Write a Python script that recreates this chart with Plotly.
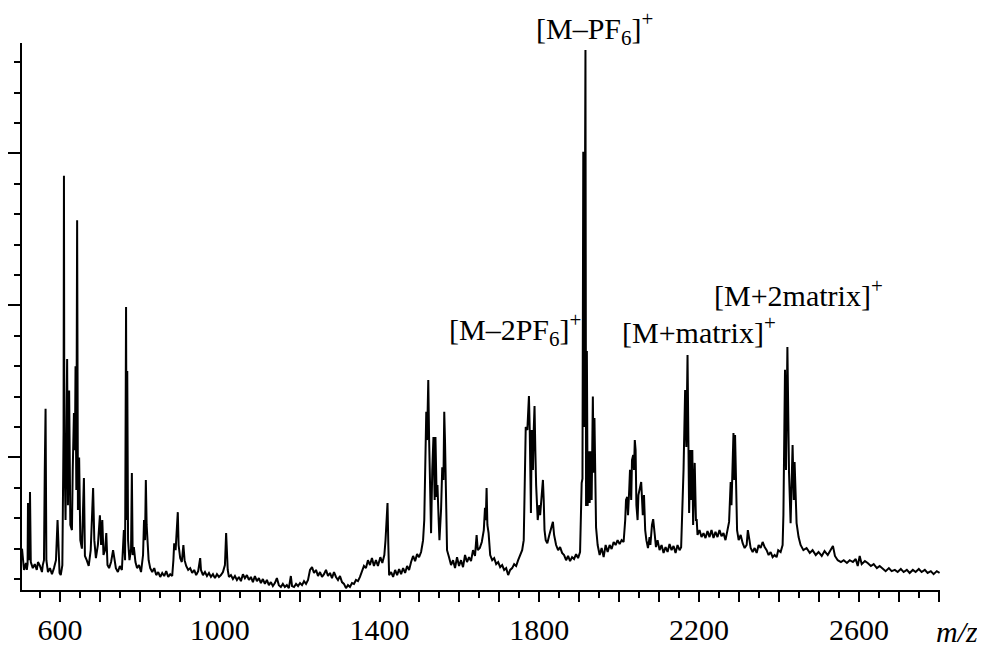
import plotly.graph_objects as go

# ---- spectrum points: (m/z, intensity in arbitrary units) ----
seg_low = [
    (505, 2.0), (507, 1.62), (510, 1.3), (515, 1.53), (517, 1.3), (519, 1.5), (520, 3.5), (521, 1.8),
    (522, 1.62), (524, 2.0), (525, 3.86), (527, 1.56), (532, 1.36), (537, 1.49), (542, 1.3), (545, 1.56),
    (550, 1.43), (555, 1.23), (557, 1.46), (560, 1.62), (562, 4.59), (564, 6.6), (566, 1.62), (570, 1.23),
    (575, 1.36), (580, 1.16), (585, 1.36), (590, 1.62), (594, 2.94), (596, 2.12), (599, 1.2), (602, 1.13),
    (606, 1.46), (609, 5.8), (610, 14.26), (611, 5.57), (614, 2.94), (616, 5.8), (618, 8.24), (620, 3.43),
    (623, 7.2), (626, 2.78), (630, 2.61), (632, 4.59), (635, 6.46), (637.5, 5.24), (639, 8.0), (641, 3.93),
    (643, 12.8), (645, 3.27), (648, 5.0), (651, 2.28), (655, 2.0), (660, 4.32), (662.5, 1.76), (667, 1.62),
    (672, 1.43), (677, 1.95), (681, 3.34), (683, 3.99), (686, 2.28), (690, 1.69), (695, 2.12), (700, 3.1),
    (703, 2.12), (706, 2.94), (709, 1.79), (713, 1.95), (716, 2.51), (719, 1.46), (723, 1.36), (728, 1.56),
    (733, 1.95), (736, 1.62), (740, 1.36), (745, 1.23), (750, 1.43), (755, 1.3), (760, 2.61), (763, 1.62),
    (765.5, 9.95), (767, 2.94), (768.5, 7.84), (770.5, 2.28), (774, 1.62), (778, 2.0), (780, 4.49), (782, 1.79),
    (785, 2.05), (789, 1.56), (793, 1.36), (798, 1.46), (803, 1.23), (808, 1.79), (810.5, 2.94), (813, 2.28),
    (815, 4.26), (817, 2.78), (819, 2.38), (822, 1.62), (826, 1.36), (831, 1.23), (836, 1.36), (841, 1.13),
    (846, 1.23), (851, 1.07), (856, 1.2), (861, 1.1), (866, 1.26), (871, 1.07), (876, 1.16), (881, 1.1),
    (884, 1.62), (886, 2.18), (889.5, 1.95), (893, 2.61), (895, 3.2), (897, 2.12), (901, 1.69), (905, 1.56),
    (909, 2.12), (912, 1.62), (916, 1.43), (921, 1.3), (926, 1.36), (931, 1.2), (936, 1.3), (941, 1.13),
    (946, 1.26), (951, 1.69), (953, 1.3), (958, 1.13), (963, 1.23), (968, 1.1), (973, 1.2), (978, 1.07),
    (983, 1.16), (988, 1.03), (993, 1.16), (998, 1.07), (1003, 1.13), (1008, 1.23), (1013, 1.46), (1016, 2.51),
    (1017.5, 2.12), (1020, 1.3), (1023, 1.07), (1028, 1.13), (1033, 1.0), (1038, 1.1), (1043, 0.97),
]

seg_valley = [
    (1048, 1.07), (1053, 0.93), (1058, 1.16), (1063, 1.03), (1068, 1.13), (1073, 0.97), (1078, 1.07),
    (1083, 0.9), (1088, 1.1), (1093, 0.93), (1098, 1.03), (1103, 0.87), (1108, 1.0), (1113, 0.84),
    (1118, 0.97), (1123, 0.8), (1128, 0.9), (1133, 0.77), (1138, 0.87), (1143, 1.03), (1148, 0.8),
    (1153, 0.74), (1158, 0.84), (1163, 0.74), (1168, 0.8), (1173, 0.7), (1178, 1.1), (1181, 0.77),
    (1186, 0.74), (1191, 0.84), (1196, 0.77), (1201, 0.87), (1206, 0.8), (1211, 0.93), (1216, 0.84),
    (1221, 0.97), (1226, 1.3), (1231, 1.39), (1236, 1.2), (1241, 1.3), (1246, 1.1), (1251, 1.23),
    (1256, 1.07), (1261, 1.16), (1266, 1.3), (1271, 1.1), (1276, 1.2), (1281, 1.03), (1286, 1.23),
    (1291, 1.07), (1296, 0.97), (1301, 1.1), (1306, 0.9), (1311, 0.84), (1316, 0.7), (1321, 0.8),
    (1326, 0.74), (1331, 0.87), (1336, 0.84), (1341, 0.97), (1346, 0.93), (1351, 1.07), (1356, 1.23),
    (1361, 1.43), (1366, 1.36), (1371, 1.62), (1376, 1.46), (1381, 1.69), (1386, 1.43), (1391, 1.62),
    (1396, 1.43), (1402, 1.72), (1407, 1.53), (1412, 1.79), (1415, 2.28), (1418, 3.1), (1420, 3.5),
    (1422, 2.12), (1424, 1.13), (1429, 1.23), (1434, 1.07), (1439, 1.3), (1444, 1.13), (1449, 1.33),
    (1454, 1.16), (1459, 1.36), (1464, 1.2), (1469, 1.43), (1474, 1.3), (1479, 1.56), (1484, 1.76),
    (1489, 1.59), (1494, 1.82), (1499, 1.72), (1504, 1.89),
]

seg_mid = [
    (1507, 2.12), (1509, 2.28), (1512, 2.94), (1514, 4.59), (1517, 6.5), (1519, 5.57), (1522, 7.55),
    (1524, 5.67), (1527, 2.94), (1529, 2.51), (1532, 4.59), (1535, 5.67), (1538, 3.6), (1540, 5.67),
    (1543, 3.7), (1545, 4.09), (1548, 2.94), (1550, 2.28), (1554, 3.27), (1557, 4.68), (1560, 4.26),
    (1562, 6.5), (1564, 5.47), (1567, 2.94), (1569, 1.95), (1574, 1.72), (1579, 1.46), (1584, 1.62),
    (1589, 1.36), (1594, 1.72), (1599, 1.43), (1604, 1.62), (1609, 1.39), (1614, 1.79), (1619, 1.56),
    (1624, 1.72), (1629, 1.59), (1634, 1.95), (1639, 1.76), (1643, 2.45), (1646, 1.95), (1651, 2.02),
    (1656, 2.22), (1661, 2.61), (1664, 3.34), (1666, 2.94), (1668, 3.99), (1670, 2.78), (1673, 2.51),
    (1677, 1.79), (1682, 1.62), (1687, 1.69), (1692, 1.49), (1697, 1.56), (1702, 1.39), (1707, 1.46),
    (1712, 1.3), (1717, 1.36), (1722, 1.13), (1727, 1.3), (1732, 1.36), (1737, 1.49), (1742, 1.43),
    (1747, 1.62), (1752, 1.76), (1757, 1.95), (1761, 2.28), (1764, 3.93), (1766, 6.0), (1770, 5.9),
    (1774, 7.02), (1776, 5.9), (1779, 3.17), (1781, 5.9), (1784, 4.59), (1786, 5.9), (1788, 6.69),
    (1790, 5.24), (1792, 4.09), (1796, 2.94), (1800, 3.43), (1802, 3.1), (1806, 3.93), (1809, 4.26),
    (1811, 3.6), (1813, 2.61), (1816, 2.28), (1820, 2.18), (1825, 2.45), (1829, 2.61), (1834, 2.88),
    (1837, 2.45), (1842, 2.12), (1847, 1.95), (1852, 2.05), (1857, 1.86), (1862, 1.79), (1867, 1.62),
    (1872, 1.76), (1877, 1.59), (1882, 1.72), (1887, 1.66), (1892, 1.82), (1897, 1.69), (1902, 1.89),
    (1906, 4.16), (1908, 4.3), (1910, 15.05), (1912, 6.0), (1915.5, 18.4), (1917, 3.4), (1919, 8.5),
    (1921, 3.4), (1924, 5.2), (1926, 3.5), (1929, 5.2), (1931, 3.6), (1934, 7.0), (1936, 4.5),
    (1938, 6.3), (1940, 4.0), (1942, 2.7), (1946, 2.12), (1951, 1.79), (1956, 2.02), (1961, 1.72),
    (1966, 2.12), (1971, 1.89), (1976, 2.12), (1981, 1.99), (1986, 2.22), (1991, 2.12), (1996, 2.28),
    (2001, 2.15), (2006, 2.28), (2011, 2.22),
]

seg_high = [
    (2015, 2.94), (2017, 3.6), (2020, 3.7), (2022, 3.1), (2025, 3.93), (2027, 4.59), (2030, 3.6),
    (2032, 4.91), (2035, 5.08), (2037, 4.59), (2039, 5.57), (2041, 5.24), (2043, 3.43), (2046, 2.94),
    (2048, 3.76), (2052, 4.09), (2055, 4.19), (2057, 3.66), (2059, 3.1), (2062, 3.76), (2065, 2.61),
    (2068, 2.28), (2072, 2.02), (2076, 2.38), (2078, 2.12), (2082, 2.78), (2085, 2.97), (2089, 2.45),
    (2092, 2.05), (2096, 2.28), (2101, 1.95), (2106, 2.12), (2111, 1.86), (2116, 2.05), (2121, 1.89),
    (2126, 2.15), (2131, 1.95), (2136, 2.09), (2141, 1.86), (2146, 2.12), (2151, 1.95), (2155, 2.05),
    (2158, 3.17), (2161, 4.59), (2165, 7.22), (2168, 5.34), (2171, 8.37), (2173, 5.34), (2175, 3.17),
    (2178, 5.24), (2180, 3.6), (2183, 5.24), (2185, 2.78), (2189, 4.82), (2192, 2.94), (2194, 2.94),
    (2196, 2.45), (2201, 2.61), (2206, 2.38), (2211, 2.51), (2216, 2.35), (2221, 2.58), (2226, 2.38),
    (2231, 2.61), (2236, 2.35), (2241, 2.55), (2246, 2.38), (2251, 2.61), (2256, 2.41), (2261, 2.51),
    (2266, 2.28), (2271, 2.61), (2275, 2.88), (2279, 4.19), (2281, 3.43), (2286, 5.8), (2288, 4.26),
    (2290, 5.74), (2293, 3.66), (2295, 2.61), (2299, 2.28), (2304, 2.45), (2309, 2.18), (2314, 2.02),
    (2319, 2.12), (2322, 2.61), (2326, 2.28), (2329, 2.02), (2334, 1.89), (2339, 2.02), (2344, 1.86),
    (2349, 2.12), (2354, 2.02), (2359, 2.22), (2364, 2.05), (2369, 1.95), (2374, 1.79), (2379, 1.89),
    (2384, 1.72), (2389, 1.79), (2394, 1.72), (2398, 1.95), (2404, 1.89), (2409, 2.12), (2411, 3.1),
    (2415, 7.88), (2417.5, 4.59), (2421, 8.63), (2425, 4.52), (2429, 2.84), (2434, 5.41), (2437, 3.6),
    (2439, 4.85), (2444, 2.84), (2449, 2.38), (2454, 2.12), (2461, 1.95), (2469, 2.02), (2477, 1.86),
    (2484, 1.95), (2492, 1.79), (2499, 1.89), (2507, 1.76), (2514, 1.92), (2522, 1.79), (2530, 1.99),
    (2535, 2.09), (2540, 1.76), (2547, 1.62), (2555, 1.56), (2562, 1.62), (2570, 1.53), (2577, 1.62),
    (2585, 1.56), (2592, 1.66), (2597, 1.43), (2602, 1.76), (2607, 1.49), (2615, 1.59), (2622, 1.53),
    (2630, 1.43), (2637, 1.49), (2645, 1.36), (2652, 1.43), (2660, 1.33), (2667, 1.26), (2675, 1.36),
    (2682, 1.26), (2690, 1.3), (2697, 1.23), (2705, 1.33), (2712, 1.23), (2720, 1.3), (2727, 1.2),
    (2735, 1.3), (2742, 1.23), (2750, 1.33), (2757, 1.23), (2765, 1.3), (2772, 1.2), (2780, 1.26),
    (2787, 1.16), (2795, 1.26), (2802, 1.2),
]

# ---- axis ticks ----
x_label_values = [600, 1000, 1400, 1800, 2200, 2600]
x_major_ticks = list(range(600, 2801, 100))
x_minor_ticks = list(range(550, 2801, 100))
y_major_ticks = [5, 10, 15]
y_minor_ticks = [v for v in range(1, 19) if v not in (5, 10, 15)]

# ---- peak labels (data coordinates) ----
label_texts = ["[M–2PF<sub>6</sub>]<sup>+</sup>", "[M+matrix]<sup>+</sup>", "[M+2matrix]<sup>+</sup>"]
label_x = [1740, 2200, 2448]
label_y = [9.2, 9.2, 10.4]
# labels lying outside the axis ranges (paper coordinates)
top_label = "[M–PF<sub>6</sub>]<sup>+</sup>"
axis_title = "<i>m/z</i>"

points = seg_low + seg_valley + seg_mid + seg_high
mz = [p[0] for p in points]
intensity = [p[1] for p in points]

FONT = "Liberation Serif, Times New Roman, serif"

fig = go.Figure()
fig.add_trace(go.Scatter(x=mz, y=intensity, mode="lines",
                         line=dict(color="black", width=2), hoverinfo="skip"))

for t, xv, yv in zip(label_texts, label_x, label_y):
    fig.add_annotation(x=xv, y=yv, xref="x", yref="y", text=t, showarrow=False,
                       font=dict(family=FONT, size=30, color="black"),
                       xanchor="center", yanchor="middle")

fig.add_annotation(x=0.624, y=1.027, xref="paper", yref="paper", text=top_label, showarrow=False,
                   font=dict(family=FONT, size=30, color="black"), xanchor="center", yanchor="middle")
fig.add_annotation(x=1.0185, y=-0.076, xref="paper", yref="paper", text=axis_title, showarrow=False,
                   font=dict(family=FONT, size=30, color="black"), xanchor="center", yanchor="middle")

x_ticktext = [str(v) if v in x_label_values else "" for v in x_major_ticks]

fig.update_layout(
    width=977, height=640,
    margin=dict(l=14, r=45, t=35, b=58, autoexpand=False),
    plot_bgcolor="white", paper_bgcolor="white",
    showlegend=False,
    font=dict(family=FONT, size=30, color="black"),
    xaxis=dict(range=[505, 2803], showgrid=False, zeroline=False, automargin=False,
               showline=True, linecolor="black", linewidth=1.5,
               ticks="outside", ticklen=10, tickwidth=1.5, tickcolor="black",
               tickmode="array", tickvals=x_major_ticks, ticktext=x_ticktext,
               ticklabelstandoff=2,
               tickfont=dict(family=FONT, size=30, color="black"),
               minor=dict(tickmode="array", tickvals=x_minor_ticks, ticks="outside",
                          ticklen=6, tickwidth=1.5, tickcolor="black", showgrid=False)),
    yaxis=dict(range=[0.64, 18.63], showgrid=False, zeroline=False, automargin=False,
               showline=True, linecolor="black", linewidth=1.5,
               ticks="outside", ticklen=12, tickwidth=1.5, tickcolor="black",
               tickmode="array", tickvals=y_major_ticks, showticklabels=False,
               minor=dict(tickmode="array", tickvals=y_minor_ticks, ticks="outside",
                          ticklen=6, tickwidth=1.5, tickcolor="black", showgrid=False)),
)

fig.write_html("out.html")
